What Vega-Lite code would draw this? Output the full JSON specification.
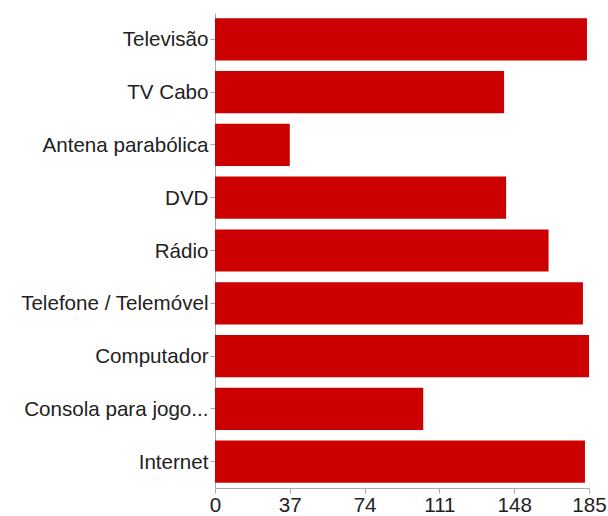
{
  "$schema": "https://vega.github.io/schema/vega-lite/v6.json",
  "width": 374,
  "height": 475,
  "autosize": {"type": "none"},
  "padding": {"left": 215, "top": 13, "right": 19, "bottom": 28},
  "background": "white",
  "data": {
    "values": [
      {"item": "Televisão", "count": 184},
      {"item": "TV Cabo", "count": 143},
      {"item": "Antena parabólica", "count": 37},
      {"item": "DVD", "count": 144},
      {"item": "Rádio", "count": 165},
      {"item": "Telefone / Telemóvel", "count": 182},
      {"item": "Computador", "count": 185},
      {"item": "Consola para jogo...", "count": 103},
      {"item": "Internet", "count": 183}
    ]
  },
  "mark": {"type": "bar", "color": "#cc0000"},
  "encoding": {
    "y": {
      "field": "item",
      "type": "nominal",
      "sort": null,
      "scale": {"paddingInner": 0.2, "paddingOuter": 0.1},
      "axis": {
        "title": null,
        "labelFont": "Liberation Sans",
        "labelFontSize": 20.6,
        "labelColor": "#222",
        "labelLimit": 300,
        "labelPadding": 2,
        "labelOffset": 1,
        "tickSize": 5,
        "tickColor": "#aaa",
        "domainColor": "#aaa",
        "grid": false
      }
    },
    "x": {
      "field": "count",
      "type": "quantitative",
      "scale": {"domain": [0, 185], "nice": false},
      "axis": {
        "title": null,
        "values": [0, 37, 74, 111, 148, 185],
        "labelFont": "Liberation Sans",
        "labelFontSize": 20.6,
        "labelColor": "#222",
        "labelPadding": 2,
        "labelFlush": false,
        "tickSize": 5,
        "tickColor": "#aaa",
        "domainColor": "#aaa",
        "grid": false
      }
    }
  },
  "config": {"view": {"stroke": null}}
}
